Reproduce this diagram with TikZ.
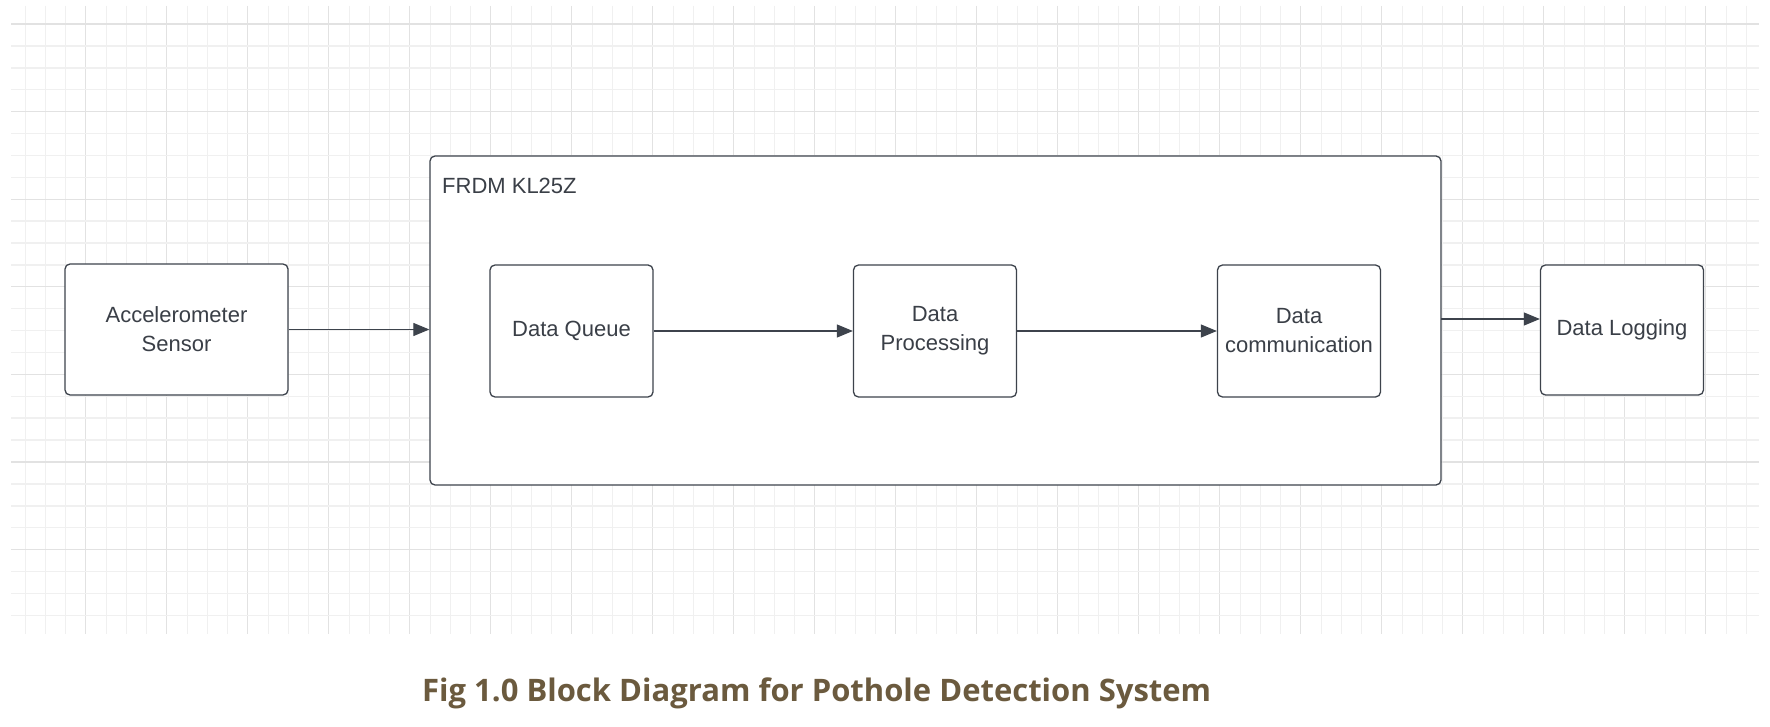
\documentclass[tikz,border=0pt]{standalone}
\usepackage{fontspec}
\setmainfont{Liberation Sans}
\newfontfamily\captionfont{Open Sans}
\usetikzlibrary{arrows.meta}
\definecolor{boxline}{HTML}{3D434C}
\definecolor{boxtext}{HTML}{3A3F47}
\definecolor{gridminor}{HTML}{F0F0F0}
\definecolor{gridmajor}{HTML}{E2E2E2}
\definecolor{captionbrown}{HTML}{6B5A3E}
\begin{document}
\begin{tikzpicture}[x=1pt,y=-1pt,
    block/.style={draw=boxline,line width=1.3pt,rounded corners=5pt,fill=white,
      text=boxtext,align=center,inner sep=0pt,
      font=\fontsize{22}{29}\selectfont},
    flow/.style={draw=boxline,line width=1.1pt,-{Triangle[length=16pt,width=13pt]}}]
      \useasboundingbox[fill=white] (0,0) rectangle (1770,727);
      % grid
      \foreach \i in {0,...,85}{
        \pgfmathtruncatemacro{\m}{mod(\i,4)}
        \ifnum\m=3
          \draw[gridmajor,line width=1pt] ({25+20.25*\i},6) -- ({25+20.25*\i},634);
        \else
          \draw[gridminor,line width=1pt] ({25+20.25*\i},6) -- ({25+20.25*\i},634);
        \fi}
      \foreach \j in {0,...,27}{
        \pgfmathtruncatemacro{\m}{mod(\j,4)}
        \ifnum\m=0
          \draw[gridmajor,line width=1.2pt] (11,{24+21.9*\j}) -- (1759,{24+21.9*\j});
        \else
          \draw[gridminor,line width=1.5pt] (11,{24+21.9*\j}) -- (1759,{24+21.9*\j});
        \fi}
      % blocks
      \node[block,minimum width=1011pt,minimum height=329pt] (frdm) at (935.5,320.5) {};
      \node[text=boxtext,inner sep=0pt,anchor=base west,
        font=\fontsize{22}{29}\selectfont] (frdmlabel) at (442,194) {FRDM KL25Z};
      \node[block,minimum width=223pt,minimum height=131pt] (accel) at (176.5,329.5)
        {Accelerometer\\Sensor};
      \node[block,minimum width=163pt,minimum height=132pt] (queue) at (571.5,331)
        {Data Queue};
      \node[block,minimum width=163pt,minimum height=132pt] (proc) at (935,331)
        {Data\\Processing};
      \node[block,minimum width=163pt,minimum height=132pt] (comm) at (1299,331)
        {Data\\communication};
      \node[block,minimum width=163pt,minimum height=130pt] (logging) at (1622,330)
        {Data Logging};
      \coordinate (frdmout) at (1441,319);
      % connectors
      \draw[flow] (accel.east) -- (accel.east -| frdm.west);
      \draw[flow] (queue) -- (proc);
      \draw[flow] (proc) -- (comm);
      \draw[flow] (frdmout) -- (frdmout -| logging.west);
      % caption
      \node[text=captionbrown,inner sep=0pt,anchor=base west,
        font=\captionfont\bfseries\fontsize{31}{36}\selectfont] (caption) at (422,701)
        {Fig 1.0 Block Diagram for Pothole Detection System};
\end{tikzpicture}
\end{document}
